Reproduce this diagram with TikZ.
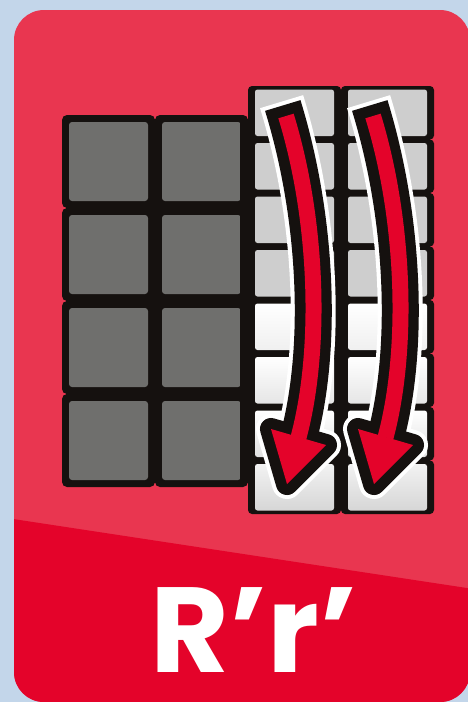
\documentclass[tikz,border=0pt]{standalone}
\usepackage{fontspec}
\usepackage{tikz}
\usetikzlibrary{calc}
\newfontfamily\cardfont{Poppins}
\definecolor{cardbg}{RGB}{195,214,234}
\definecolor{cardtop}{RGB}{233,54,80}
\definecolor{cardred}{RGB}{228,3,42}
\definecolor{cubeblk}{RGB}{21,17,15}
\definecolor{cubegray}{RGB}{111,111,109}
\definecolor{cubelight}{RGB}{206,206,206}
\newcommand{\turnarrow}[2]{%
  \begin{scope}[xshift=#1]
    \coordinate (#2-p0)  at (286,116);
    \coordinate (#2-c1)  at (318,220);
    \coordinate (#2-c2)  at (322,350);
    \coordinate (#2-p3)  at (298.5,437.5);
    \coordinate (#2-hl)  at (271,429);
    \coordinate (#2-hr)  at (326,445);
    \coordinate (#2-tip) at (287,484);
    \foreach \w/\hw/\col/\ext in {45pt/30pt/white/15pt,37pt/22pt/cubeblk/11pt}{
      \draw[line width=\w,\col] ($(#2-p0)!-\ext!(#2-c1)$)
            .. controls (#2-c1) and (#2-c2) .. (#2-p3);
      \filldraw[line width=\hw,line join=round,\col] (#2-hl) -- (#2-tip) -- (#2-hr) -- cycle;
    }
    \draw[line width=16pt,cardred] (#2-p0) .. controls (#2-c1) and (#2-c2) .. (#2-p3);
    \fill[cardred] (#2-hl) -- (#2-tip) -- (#2-hr) -- cycle;
  \end{scope}}

\begin{document}
\begin{tikzpicture}[x=1pt,y=-1pt,
  blkcell/.style={fill=cubeblk,rounded corners=5pt,inner sep=0pt,minimum width=93pt,minimum height=93pt},
  grycell/.style={fill=cubegray,rounded corners=3pt,inner sep=0pt,minimum width=79pt,minimum height=79pt},
  slotcell/.style={fill=cubeblk,rounded corners=4pt,inner sep=0pt,minimum width=93pt,minimum height=53.5pt},
  litecell/.style={rounded corners=2.5pt,inner sep=0pt,minimum width=79pt,minimum height=46.5pt},
  title/.style={font=\cardfont\bfseries\fontsize{121}{121}\selectfont,text=white,inner sep=0pt,text depth=0pt}]
  \fill[cardbg] (0,0) rectangle (468,702);
  \useasboundingbox (0,0) rectangle (468,702);
  \fill[cardtop,rounded corners=30pt] (14,10) rectangle (470,702);
  \begin{scope}
    \clip[rounded corners=30pt] (14,10) rectangle (470,702);
    \fill[cardred] (0,517) -- (480,590) -- (480,710) -- (0,710) -- cycle;
  \end{scope}
  \fill[cubeblk] (66,119) rectangle (244,483);
  \foreach \i in {0,1}
    \foreach \j in {0,...,3}{
      \node[blkcell] (d\i\j) at (108.5+93*\i,161.5+93*\j) {};
      \node[grycell] (g\i\j) at (d\i\j.center) {};
    }
  \fill[cubeblk] (252,90) rectangle (430,510);
  \fill[cubeblk] (240,119) rectangle (256,483);
  \foreach \i in {0,1}
    \foreach \j/\tc/\bc in {0/cubelight/cubelight,1/cubelight/cubelight,2/cubelight/cubelight,
                            3/cubelight/cubelight,4/white/black!6,5/white/black!10,
                            6/white/black!12,7/black!5/black!16}{
      \node[slotcell] (s\i\j) at (294.5+93*\i,112.75+53.5*\j) {};
      \node[litecell,top color=\tc,bottom color=\bc] (l\i\j) at (s\i\j.center) {};
    }
  \turnarrow{0pt}{ra}
  \turnarrow{87pt}{rb}
  \node[title,anchor=base] (move) at (254,672) {R’r’};
\end{tikzpicture}
\end{document}
